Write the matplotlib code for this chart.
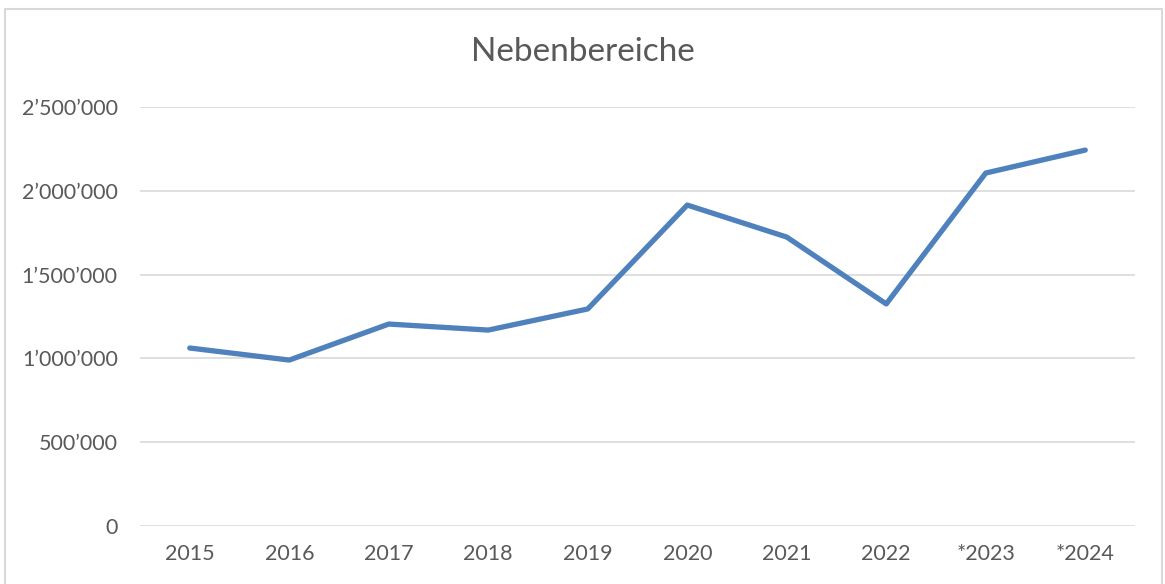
import matplotlib
matplotlib.use("Agg")
import matplotlib.pyplot as plt
from matplotlib.ticker import FuncFormatter
from matplotlib.patches import Rectangle

years = ["2015", "2016", "2017", "2018", "2019", "2020", "2021", "2022", "*2023", "*2024"]
values = [1062000, 990000, 1205000, 1169000, 1295000, 1915000, 1724000, 1325000, 2106000, 2243000]

plt.rcParams["font.family"] = ["Lato", "DejaVu Sans"]

W, H = 1165, 584
fig = plt.figure(figsize=(W / 100, H / 100), dpi=100)
ax = fig.add_axes([140 / W, 1 - 526 / H, 995 / W, (526 - 107) / H])

# chart border (bottom edge falls outside the image)
fig.patches.append(Rectangle((5 / W, -0.05), 1157 / W, 1.05 - 9 / H, transform=fig.transFigure,
                             fill=False, edgecolor="#D9D9D9", linewidth=1.5))

x = range(len(years))
ax.plot(x, values, color="#4F81BD", linewidth=3.8, solid_capstyle="round", solid_joinstyle="round")

ax.set_xlim(-0.5, len(years) - 0.5)
ax.set_ylim(0, 2500000)
ax.set_yticks(range(0, 2500001, 500000))
ax.yaxis.set_major_formatter(FuncFormatter(lambda v, p: f"{int(v):,}".replace(",", "\u2019")))
ax.set_xticks(list(x))
ax.set_xticklabels(years)

ax.grid(axis="y", color="#D9D9D9", linewidth=1.2)
ax.set_axisbelow(True)
for s in ax.spines.values():
    s.set_visible(False)
ax.tick_params(length=0, labelsize=15.5, colors="#595959")
ax.tick_params(axis="x", pad=13)
ax.tick_params(axis="y", pad=16)

fig.text(583 / W, 1 - 52 / H, "Nebenbereiche", ha="center", va="center", fontsize=24, color="#595959")

fig.savefig("out.png", dpi=100)
